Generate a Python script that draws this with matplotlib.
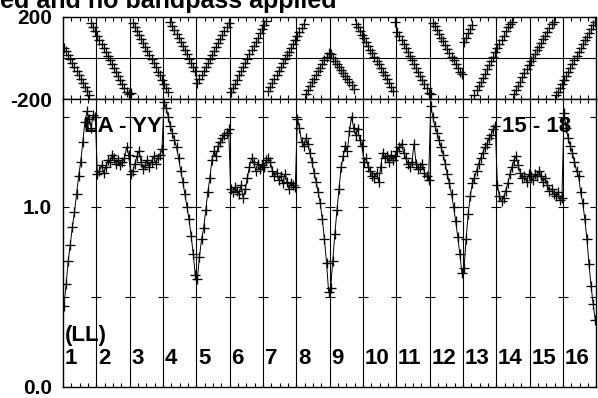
import matplotlib
matplotlib.use('Agg')
import matplotlib.pyplot as plt
import numpy as np

plt.rcParams['font.family'] = ['Liberation Sans', 'DejaVu Sans']

# 16 IFs x 16 channels
if_labels = [str(i) for i in range(1, 17)]
n_chan = 16

phase = [
    [50, 35, 17, -3, -23, -43, -62, -82, -102, -122, -142, -162, -179, 170, 150, 130],
    [110, 90, 71, 51, 31, 11, -9, -29, -48, -68, -88, -108, -127, -147, -166, -175],
    [-167, 173, 153, 133, 114, 94, 74, 54, 34, 14, -5, -25, -45, -65, -84, -105],
    [-124, -143, -163, 178, 158, 138, 118, 98, 78, 58, 38, 18, -2, -22, -42, -62],
    [-120, -101, -81, -62, -43, -23, -4, 15, 35, 54, 73, 93, 112, 131, 151, 170],
    [-165, -145, -124, -104, -84, -63, -43, -23, -2, 18, 38, 59, 79, 99, 120, 140],
    [160, 179, -160, -141, -122, -102, -83, -64, -45, -26, -6, 13, 32, 51, 70, 90],
    [109, 128, 147, 167, -172, -154, -136, -118, -100, -82, -64, -46, -28, -10, 8, 26],
    [18, 3, -12, -27, -42, -57, -72, -87, -102, -117, -132, -150, 168, 150, 132, 114],
    [96, 78, 60, 42, 24, 6, -12, -30, -48, -66, -84, -102, -120, -140, -158, 178],
    [129, 109, 90, 70, 50, 30, 10, -10, -29, -48, -68, -88, -108, -128, -147, -167],
    [-176, 173, 154, 136, 118, 99, 81, 62, 44, 26, 7, -11, -30, -48, -67, -78],
    [80, 100, 121, 141, 162, -177, -157, -136, -116, -95, -75, -54, -34, -13, 7, 28],
    [50, 70, 90, 110, 130, 150, 168, 178, -172, -154, -134, -114, -94, -74, -54, -34],
    [-16, 2, 20, 38, 56, 74, 92, 110, 128, 146, 164, 178, -178, -163, -143, -124],
    [-105, -85, -66, -47, -28, -9, 10, 29, 48, 67, 86, 105, 124, 143, 162, 178],
]

amp = [
    [0.45, 0.57, 0.70, 0.79, 0.89, 0.97, 1.07, 1.17, 1.25, 1.36, 1.47, 1.53, 1.49, 1.44, 1.51, 1.50],
    [1.18, 1.20, 1.23, 1.19, 1.22, 1.26, 1.25, 1.29, 1.27, 1.24, 1.26, 1.23, 1.25, 1.27, 1.33, 1.29],
    [1.18, 1.20, 1.24, 1.28, 1.31, 1.25, 1.21, 1.23, 1.26, 1.22, 1.25, 1.28, 1.24, 1.27, 1.29, 1.32],
    [1.58, 1.55, 1.50, 1.45, 1.41, 1.37, 1.33, 1.27, 1.20, 1.14, 1.07, 1.00, 0.93, 0.84, 0.74, 0.62],
    [0.60, 0.72, 0.82, 0.88, 0.98, 1.08, 1.16, 1.26, 1.31, 1.28, 1.34, 1.36, 1.38, 1.40, 1.41, 1.43],
    [1.10, 1.08, 1.11, 1.09, 1.07, 1.12, 1.05, 1.10, 1.16, 1.22, 1.27, 1.25, 1.20, 1.24, 1.21, 1.23],
    [1.22, 1.26, 1.27, 1.25, 1.20, 1.17, 1.19, 1.15, 1.17, 1.13, 1.18, 1.14, 1.10, 1.13, 1.12, 1.11],
    [1.49, 1.44, 1.36, 1.34, 1.38, 1.35, 1.30, 1.25, 1.19, 1.14, 1.08, 1.02, 0.93, 0.82, 0.69, 0.53],
    [0.55, 0.70, 0.85, 0.98, 1.10, 1.22, 1.28, 1.34, 1.31, 1.42, 1.50, 1.44, 1.40, 1.43, 1.37, 1.34],
    [1.25, 1.27, 1.22, 1.20, 1.17, 1.16, 1.19, 1.14, 1.22, 1.30, 1.27, 1.28, 1.25, 1.29, 1.26, 1.28],
    [1.31, 1.33, 1.35, 1.30, 1.27, 1.24, 1.22, 1.25, 1.35, 1.24, 1.21, 1.22, 1.24, 1.19, 1.17, 1.15],
    [1.56, 1.50, 1.45, 1.41, 1.37, 1.33, 1.29, 1.24, 1.18, 1.13, 1.07, 1.00, 0.92, 0.83, 0.74, 0.63],
    [0.66, 0.82, 0.96, 1.06, 1.13, 1.16, 1.20, 1.24, 1.27, 1.30, 1.33, 1.35, 1.38, 1.40, 1.43, 1.45],
    [1.12, 1.06, 1.03, 1.05, 1.09, 1.13, 1.18, 1.22, 1.26, 1.28, 1.23, 1.19, 1.16, 1.17, 1.14, 1.18],
    [1.17, 1.15, 1.18, 1.17, 1.20, 1.17, 1.14, 1.16, 1.12, 1.09, 1.10, 1.07, 1.06, 1.08, 1.04, 1.05],
    [1.52, 1.44, 1.38, 1.34, 1.30, 1.25, 1.20, 1.17, 1.08, 1.02, 0.93, 0.82, 0.68, 0.56, 0.46, 0.37],
]

n_if = len(if_labels)
x = np.array([i + (k + 0.5) / n_chan for i in range(n_if) for k in range(n_chan)])
ph = np.concatenate(phase)
am = np.concatenate(amp)

W, H = 598, 398
fig = plt.figure(figsize=(W / 100, H / 100), dpi=100)
ax_ph = fig.add_axes([63 / W, (H - 99.3) / H, 533.3 / W, 82.3 / H])
ax_amp = fig.add_axes([63 / W, 11 / H, 533.3 / W, 288.3 / H])

mk = dict(ls='none', marker='+', color='black', ms=7.8, mew=0.95)

# phase panel
ax_ph.plot(x, ph, **mk)
ax_ph.axhline(0, color='black', lw=0.8)
ax_ph.set_ylim(-200, 200)
ax_ph.set_yticks([-200, 200])
ax_ph.set_yticklabels(['-200', '200'], fontsize=15, fontweight='bold')

# amplitude panel
ax_amp.plot(x, am, color='black', lw=0.7)
ax_amp.plot(x, am, **mk)
ax_amp.set_ylim(0, 1.6)
ax_amp.set_yticks([0, 0.5, 1.0, 1.5])
ax_amp.set_yticklabels(['0.0', '', '1.0', ''], fontsize=15, fontweight='bold')
for b in range(1, n_if):
    ax_amp.plot([b, b, b], [0.5, 1.0, 1.5], ls='none', marker='_',
                color='black', ms=7.5, mew=0.8)

for ax in (ax_ph, ax_amp):
    ax.set_xlim(0, n_if)
    for b in range(1, n_if):
        ax.axvline(b, color='black', lw=0.8)
    ax.set_xticks(np.arange(0, n_if + 0.01, 0.25))
    ax.tick_params(axis='x', direction='in', top=True, bottom=True,
                   length=3, width=0.8, labelbottom=False)
    ax.tick_params(axis='y', direction='in', left=True, right=True,
                   length=4, width=0.8, pad=8)
    for s in ax.spines.values():
        s.set_linewidth(1.0)

for i, lab in enumerate(if_labels):
    ax_amp.text(i + 0.05, 0.125, lab, fontsize=16, fontweight='bold', va='baseline')
ax_amp.text(0.05, 0.255, '(LL)', fontsize=16, fontweight='bold', va='baseline')
ax_amp.text(0.64, 1.417, 'LA - YY', fontsize=16, fontweight='bold', va='baseline')
ax_amp.text(13.17, 1.417, '15 - 18', fontsize=16, fontweight='bold', va='baseline')

fig.text(0.0, 1 - 8 / H, 'ed and no bandpass applied', fontsize=18,
         fontweight='bold', va='baseline', ha='left')

fig.savefig('out.png', dpi=100)
